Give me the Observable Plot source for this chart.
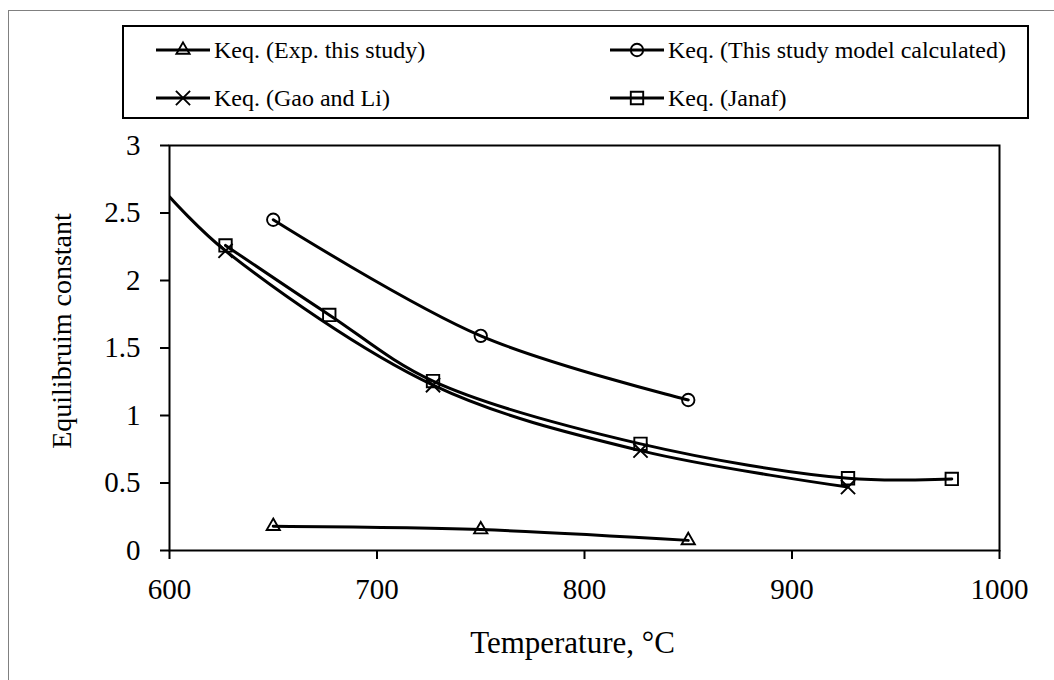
<!DOCTYPE html>
<html>
<head>
<meta charset="utf-8">
<script src="https://cdn.jsdelivr.net/npm/d3@7"></script>
<script src="https://cdn.jsdelivr.net/npm/@observablehq/plot@0.6"></script>
<style>
  html, body { margin: 0; padding: 0; background: #fff; overflow: hidden; }
  body { width: 1054px; height: 680px; position: relative; font-family: "Liberation Serif", "Times New Roman", serif; }
  #outer { position: absolute; left: 8px; top: 10px; width: 2000px; height: 2000px; border: 1.5px solid #808080; box-sizing: border-box; }
  #chart { position: absolute; left: 0; top: 0; }
  #legend { position: absolute; left: 122px; top: 25px; width: 907px; height: 94px; border: 2px solid #000; box-sizing: border-box; background: #fff; }
  .item { position: absolute; display: flex; align-items: center; font-size: 24px; color: #000; white-space: nowrap; }
  .item svg { display: block; margin-right: 3px; }
</style>
</head>
<body>
<div id="outer"></div>
<div id="chart"></div>
<div id="legend"></div>
<script>
// ---- data ----
const seriesNames = ["Keq. (Exp. this study)", "Keq. (This study model calculated)", "Keq. (Gao and Li)", "Keq. (Janaf)"];

const expT = [650, 750, 850];
const expK = [0.18, 0.155, 0.075];

const modelT = [650, 750, 850];
const modelK = [2.45, 1.59, 1.115];

const gaoT = [600, 627, 727, 827, 927];
const gaoK = [2.62, 2.22, 1.225, 0.74, 0.47];

const janafT = [627, 677, 727, 827, 927, 977];
const janafK = [2.26, 1.745, 1.255, 0.79, 0.535, 0.53];

const xTicks = [600, 700, 800, 900, 1000];
const yTicks = [0, 0.5, 1, 1.5, 2, 2.5, 3];

const xTitle = "Temperature, °C";
const yTitle = "Equilibruim constant";

const symbols = ["triangle", "circle", "times", "square"];
const symbolR = [4.9, 6.2, 6.5, 7];

// ---- build tables ----
const tbl = (T, K, s) => T.map((t, i) => ({T: t, K: K[i], s}));
const series = [
  tbl(expT, expK, 0),
  tbl(modelT, modelK, 1),
  tbl(gaoT, gaoK, 2),
  tbl(janafT, janafK, 3)
];

const serif = '"Liberation Serif", "Times New Roman", serif';

const marks = [];
series.forEach((d, i) => {
  marks.push(Plot.line(d, {x: "T", y: "K", curve: "catmull-rom", stroke: "#000", strokeWidth: 3, clip: true}));
});
series.forEach((d, i) => {
  marks.push(Plot.dot(d.filter(p => p.T > 600), {x: "T", y: "K", symbol: () => symbols[i], r: symbolR[i], stroke: "#000", strokeWidth: 1.9, fill: "none"}));
});

const chart = Plot.plot({
  width: 1054,
  height: 680,
  marginLeft: 169,
  marginRight: 55,
  marginTop: 145,
  marginBottom: 130,
  style: {fontFamily: serif, fontSize: "29px", color: "#000", background: "transparent"},
  symbol: {type: "identity"},
  x: {domain: [600, 1000]},
  y: {domain: [0, 3]},
  marks: [
    Plot.axisX({ticks: xTicks, tickSize: 9, tickPadding: 19, strokeWidth: 2, label: null, tickFormat: d => `${d}`, fontSize: 29}),
    Plot.axisY({ticks: yTicks, tickSize: 9, tickPadding: 20, strokeWidth: 2, label: null, tickFormat: d => `${d}`, fontSize: 29}),
    Plot.frame({stroke: "#000", strokeWidth: 2}),
    ...marks,
    Plot.text([xTitle], {text: d => d, frameAnchor: "bottom", dy: 93, dx: -12, lineAnchor: "middle", fontSize: 31, fill: "#000"}),
    Plot.text([yTitle], {text: d => d, frameAnchor: "left", dx: -107, dy: -17, rotate: -90, textAnchor: "middle", lineAnchor: "middle", fontSize: 28, fill: "#000"})
  ]
});
document.getElementById("chart").appendChild(chart);

// ---- legend ----
const legend = document.getElementById("legend");
const pos = [
  {left: 31, top: 23}, {left: 485, top: 23},
  {left: 31, top: 71}, {left: 485, top: 71}
];
const d3sym = {triangle: d3.symbolTriangle, circle: d3.symbolCircle, times: d3.symbolTimes, square: d3.symbolSquare};
seriesNames.forEach((name, i) => {
  const div = document.createElement("div");
  div.className = "item";
  div.style.left = pos[i].left + "px";
  div.style.top = (pos[i].top - 15) + "px";
  div.style.height = "30px";
  const r = symbolR[i];
  const path = d3.symbol(d3sym[symbols[i]], Math.PI * r * r)();
  div.innerHTML = `<svg width="56" height="30" viewBox="0 0 56 30">
      <line x1="1" x2="55" y1="15" y2="15" stroke="#000" stroke-width="3"/>
      <path d="${path}" transform="translate(28,15)" fill="none" stroke="#000" stroke-width="1.9"/>
    </svg><span>${name}</span>`;
  legend.appendChild(div);
});
</script>
</body>
</html>
